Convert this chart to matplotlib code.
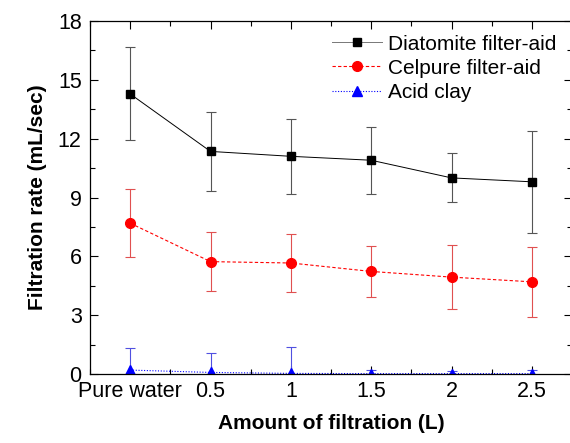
import matplotlib
matplotlib.use("Agg")
import matplotlib.pyplot as plt
from matplotlib.ticker import MultipleLocator
from matplotlib.lines import Line2D
import numpy as np

plt.rcParams['font.family'] = ['Liberation Sans', 'DejaVu Sans']

categories = ["Pure water", "0.5", "1", "1.5", "2", "2.5"]
diatomite = [14.28, 11.35, 11.1, 10.9, 10.0, 9.8]
diatomite_err = [2.37, 2.0, 1.9, 1.7, 1.25, 2.6]
celpure = [7.69, 5.73, 5.66, 5.23, 4.94, 4.70]
celpure_err = [1.74, 1.5, 1.47, 1.28, 1.65, 1.77]
acid_clay = [0.2, 0.08, 0.03, 0.02, 0.02, 0.02]
acid_clay_err = [1.15, 0.98, 1.35, 0.2, 0.15, 0.2]
labels = ['Diatomite filter-aid', 'Celpure filter-aid', 'Acid clay']

x = np.arange(len(categories))

fig = plt.figure(figsize=(5.70, 4.43), dpi=100)
ax = fig.add_axes([90/570, 1-374/443, 482/570, 353/443])

styles = [
    dict(color='black', lw=0.7, ls='-', marker='s', ms=6, ecolor='#555555'),
    dict(color='red', lw=0.8, ls=(0, (3, 2)), marker='o', ms=7, ecolor='#e05050'),
    dict(color='blue', lw=0.8, ls=(0, (1, 1.5)), marker='^', ms=7, ecolor='#5050e0'),
]
series = [(diatomite, diatomite_err), (celpure, celpure_err), (acid_clay, acid_clay_err)]
handles = []
for (vals, errs), st, lab in zip(series, styles, labels):
    ax.errorbar(x, vals, yerr=errs, color=st['color'], lw=st['lw'], ls=st['ls'],
                marker=st['marker'], ms=st['ms'], ecolor=st['ecolor'],
                elinewidth=0.8, capsize=3.5, capthick=0.8)
    lc = '#777777' if st['color'] == 'black' else st['color']
    handles.append(Line2D([], [], color=lc, lw=st['lw'], ls=st['ls'],
                          marker=st['marker'], ms=st['ms'], mfc=st['color'],
                          mec=st['color'], label=lab))

ax.set_xlim(-0.5, 5.5)
ax.set_ylim(0, 18)
ax.set_xticks(x)
ax.set_xticklabels(categories)
ax.xaxis.set_minor_locator(MultipleLocator(0.5))
ax.set_yticks(np.arange(0, 19, 3))
ax.yaxis.set_minor_locator(MultipleLocator(1.5))
ax.tick_params(which='both', direction='in', top=True, right=True, labelsize=15.5, width=0.8)
ax.tick_params(which='major', length=6)
ax.tick_params(axis='y', which='major', pad=6)
ax.tick_params(axis='x', which='major', pad=5)
ax.tick_params(which='minor', length=3.5)

ax.set_xlabel('Amount of filtration (L)', fontsize=15, fontweight='bold', labelpad=9)
ax.set_ylabel('Filtration rate (mL/sec)', fontsize=15, fontweight='bold', labelpad=8)

for s in ax.spines.values():
    s.set_linewidth(0.9)

ax.legend(handles=handles, loc='upper left', bbox_to_anchor=(228/482, 1.0), frameon=False,
          fontsize=15, handlelength=2.4, handletextpad=0.3, labelspacing=0.25,
          borderaxespad=0.25)

fig.savefig('out.png', dpi=100)
